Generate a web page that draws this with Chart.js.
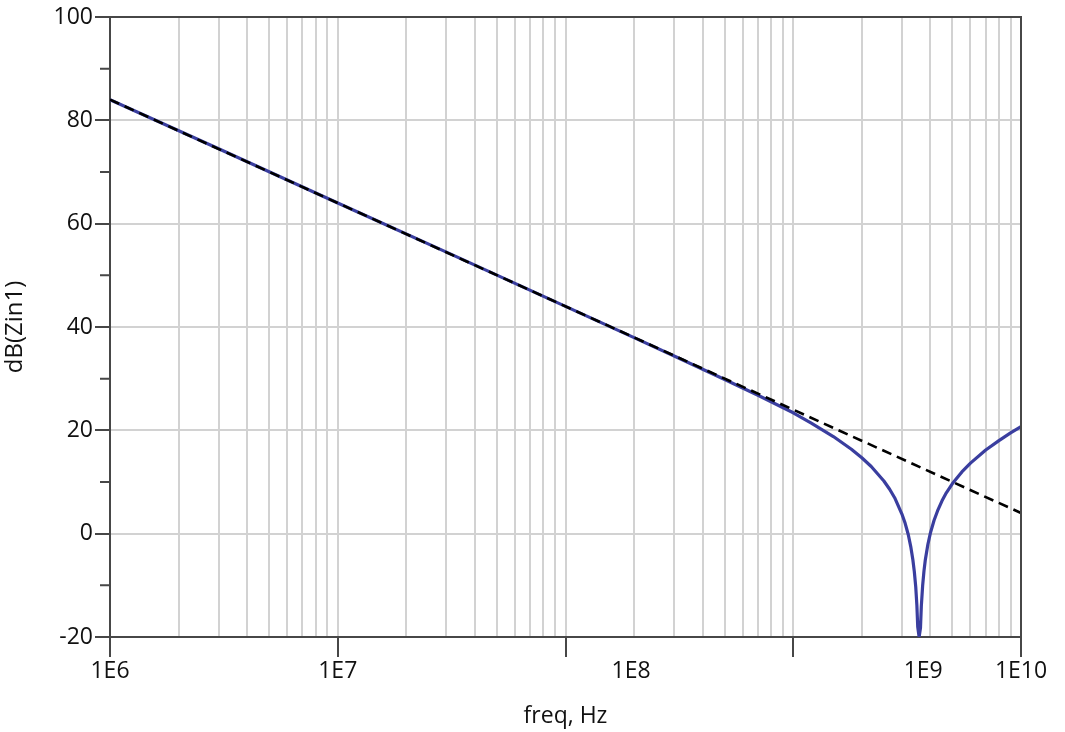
<!DOCTYPE html>
<html>
<head>
<meta charset="utf-8">
<script src="https://cdn.jsdelivr.net/npm/chart.js@4.4.1/dist/chart.umd.min.js"></script>
<style>
  html, body { margin: 0; padding: 0; background: #ffffff; }
  #wrap { width: 1065px; height: 732px; }
</style>
</head>
<body>
<div id="wrap"><canvas id="c" width="1065" height="732"></canvas></div>
<script>
// ---- data ----
const freqZin = [1e6, 3e6, 1e7, 3e7, 1e8, 2e8, 3e8, 5e8, 7e8, 1e9, 1.2e9, 1.5e9, 1.8e9, 2e9, 2.2e9, 2.5e9, 2.65e9, 2.8e9,
  3.0e9, 3.1e9, 3.2e9, 3.28e9, 3.35e9, 3.4e9, 3.45e9, 3.49e9, 3.52e9, 3.57e9, 3.62e9, 3.65e9, 3.7e9, 3.75e9, 3.8e9,
  3.9e9, 4.0e9, 4.15e9, 4.3e9, 4.5e9, 4.7e9, 5.0e9, 5.5e9, 6e9, 7e9, 8e9, 9e9, 1e10];
const dbZin = [84.0, 74.5, 64.0, 54.5, 44.0, 37.95, 34.4, 29.85, 26.8, 23.4, 21.4, 18.8, 16.35, 14.7, 13.0, 10.2, 8.6, 6.8,
  3.8, 2.0, -0.2, -2.5, -5.0, -7.3, -10.3, -13.9, -18.0, -20.0, -18.2, -14.1, -10.0, -7.2, -5.1,
  -2.1, 0.1, 2.55, 4.4, 6.35, 7.9, 9.7, 11.95, 13.65, 16.2, 18.0, 19.5, 20.7];
const freqRef = [1e6, 1e10];
const dbRef = [84, 4];

const xDecades = [1e6, 1e7, 1e8, 1e9, 1e10];
const xTickLabels = ['1E6', '1E7', '1E8', '1E9', '1E10'];
const xTickLabelPos = [1e6, 1e7, 1.94e8, 3.72e9, 1e10];
const yMajorTicks = [-20, 0, 20, 40, 60, 80, 100];
const yTickLabels = ['-20', '0', '20', '40', '60', '80', '100'];
const yMinorTicks = [-10, 10, 30, 50, 70, 90];

// ---- helpers ----
const near = (a, b) => Math.abs(a - b) <= Math.abs(b) * 1e-6;
const inList = (v, list) => list.some(w => near(v, w));
const xGridValues = [];
for (let d = 6; d < 10; d++) for (let m = 1; m <= 9; m++) xGridValues.push(m * Math.pow(10, d));
xGridValues.push(1e10);
const xAllTicks = xGridValues.concat(xTickLabelPos.filter(v => !inList(v, xGridValues))).sort((a, b) => a - b);
const yAllTicks = yMajorTicks.concat(yMinorTicks).sort((a, b) => a - b);

const GRID = '#d2d2d2';
const AXIS = '#474747';
const TEXT = '#111111';
const FONT = 'Open Sans';
const NONE = 'rgba(0,0,0,0)';

const framePlugin = {
  id: 'frame',
  afterDraw(chart) {
    const { ctx, chartArea: a, scales } = chart;
    ctx.save();
    ctx.strokeStyle = AXIS;
    ctx.lineWidth = 2;
    ctx.beginPath();
    ctx.moveTo(a.left, a.top);
    ctx.lineTo(a.right, a.top);
    ctx.lineTo(a.right, a.bottom);
    ctx.stroke();
    ctx.beginPath();
    yMinorTicks.forEach(v => {
      const y = scales.y.getPixelForValue(v);
      ctx.moveTo(a.left - 10, y);
      ctx.lineTo(a.left, y);
    });
    ctx.stroke();
    ctx.restore();
  }
};

new Chart(document.getElementById('c'), {
  type: 'line',
  data: {
    datasets: [
      {
        label: 'ref',
        data: freqRef.map((f, i) => ({ x: f, y: dbRef[i] })),
        borderColor: '#000000',
        borderWidth: 2.6,
        borderDash: [10, 6],
        pointRadius: 0,
        fill: false,
        order: 0
      },
      {
        label: 'dB(Zin1)',
        data: freqZin.map((f, i) => ({ x: f, y: dbZin[i] })),
        borderColor: '#3a3e9f',
        borderWidth: 3.2,
        pointRadius: 0,
        tension: 0,
        borderJoinStyle: 'round',
        fill: false,
        order: 1
      }
    ]
  },
  options: {
    responsive: false,
    animation: false,
    layout: { padding: { top: 17, right: 44, left: 0, bottom: 0 } },
    plugins: { legend: { display: false }, tooltip: { enabled: false } },
    scales: {
      x: {
        type: 'logarithmic',
        position: 'bottom',
        min: 1e6,
        max: 1e10,
        afterBuildTicks: s => { s.ticks = xAllTicks.map(v => ({ value: v })); },
        afterFit: s => { s.height = 95; },
        grid: {
          color: c => (c.tick && inList(c.tick.value, xGridValues)) ? GRID : NONE,
          lineWidth: 2,
          tickLength: 20,
          tickColor: c => (c.tick && inList(c.tick.value, xDecades)) ? AXIS : NONE,
          tickWidth: 2
        },
        border: { color: AXIS, width: 2 },
        ticks: {
          autoSkip: false,
          maxRotation: 0,
          minRotation: 0,
          padding: 1,
          color: TEXT,
          font: { family: FONT, size: 23 },
          callback: function (v, i, ticks) {
            const val = ticks[i].value;
            const k = xTickLabelPos.findIndex(p => near(val, p));
            return k >= 0 ? xTickLabels[k] : '';
          }
        },
        title: {
          display: true,
          text: 'freq, Hz',
          color: TEXT,
          font: { family: FONT, size: 23 },
          padding: { top: 0, bottom: 2 }
        }
      },
      y: {
        min: -20,
        max: 100,
        afterBuildTicks: s => { s.ticks = yAllTicks.map(v => ({ value: v })); },
        afterFit: s => { s.width = 110; },
        grid: {
          color: c => (c.tick && inList(c.tick.value, yMajorTicks)) ? GRID : NONE,
          lineWidth: 2,
          tickLength: 15,
          tickColor: c => (c.tick && inList(c.tick.value, yMajorTicks)) ? AXIS : NONE,
          tickWidth: 2
        },
        border: { color: AXIS, width: 2 },
        ticks: {
          autoSkip: false,
          padding: 2,
          color: TEXT,
          font: { family: FONT, size: 23 },
          callback: function (v) {
            const k = yMajorTicks.findIndex(p => p === v);
            return k >= 0 ? yTickLabels[k] : '';
          }
        },
        title: {
          display: true,
          text: 'dB(Zin1)',
          color: TEXT,
          font: { family: FONT, size: 24 },
          padding: { top: 1, bottom: 0 }
        }
      }
    }
  },
  plugins: [framePlugin]
});
</script>
</body>
</html>
